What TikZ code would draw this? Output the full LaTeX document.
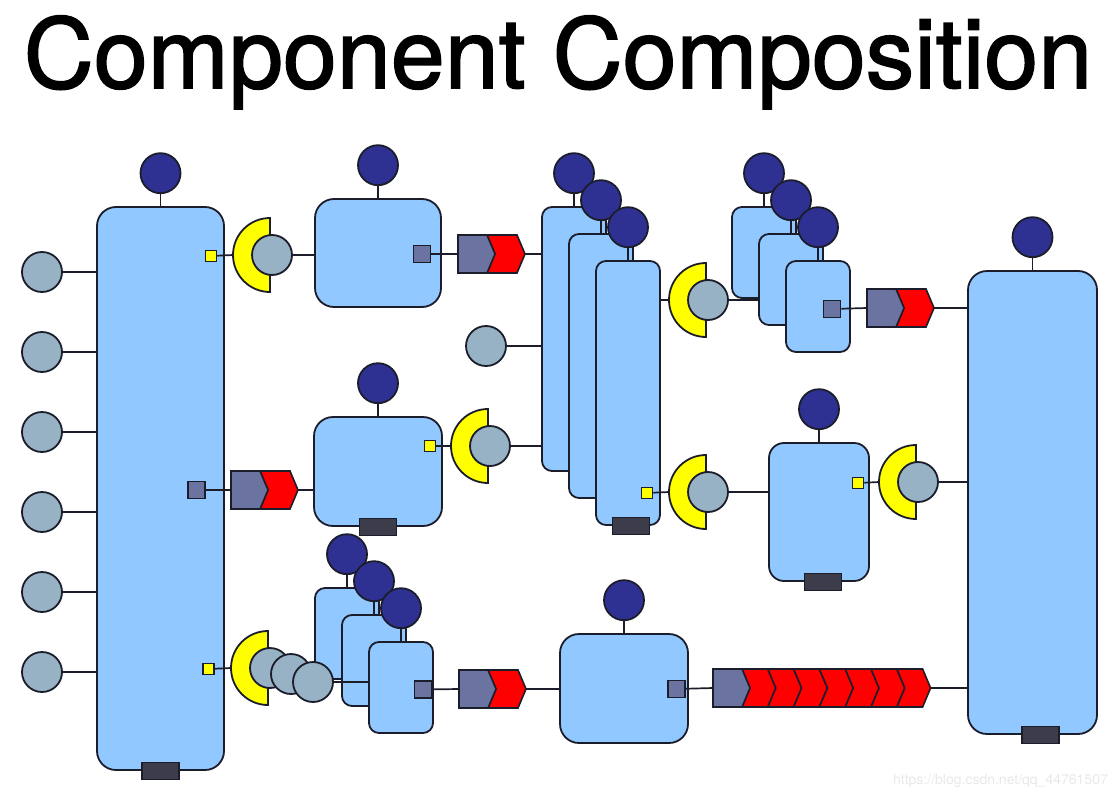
\documentclass[tikz,border=0pt]{standalone}
\usepackage{fontspec}
\setmainfont{TeX Gyre Heros}
\newfontfamily\titlefont[FakeBold=1.6]{TeX Gyre Heros}
\usetikzlibrary{positioning}

\definecolor{edge}{HTML}{1C1D2B}
\definecolor{boxblue}{HTML}{91C8FF}
\definecolor{svcblue}{HTML}{2E3192}
\definecolor{portgray}{HTML}{97B1C5}
\definecolor{slate}{HTML}{6B73A0}
\definecolor{qred}{HTML}{FF0000}
\definecolor{plugyellow}{HTML}{FFFF00}
\definecolor{footdark}{HTML}{3D3C4A}

\tikzset{
  comp/.style = {draw = edge, fill = boxblue, line width = 1.8pt,
    rounded corners = 19pt, inner sep = 0},
  slim/.style = {comp, rounded corners = 10pt, minimum width = 64pt},
  svc/.style = {circle, draw = edge, fill = svcblue, line width = 1.8pt,
    minimum size = 40pt, inner sep = 0},
  port/.style = {circle, draw = edge, fill = portgray, line width = 1.8pt,
    minimum size = 40pt, inner sep = 0},
  sq/.style = {draw = edge, fill = slate, line width = 1.6pt,
    minimum size = 17pt, inner sep = 0},
  ysq/.style = {draw = edge, fill = plugyellow, line width = 1.5pt,
    minimum size = 11pt, inner sep = 0},
  foot/.style = {draw = edge, fill = footdark, line width = 1.6pt,
    minimum width = 37pt, minimum height = 17pt, inner sep = 0},
  wire/.style = {draw = edge, line width = 1.7pt},
  heading/.style = {font = \titlefont\fontsize{97}{97}\selectfont, inner sep = 0},
  wmark/.style = {font = \fontsize{14}{14}\selectfont, text = black!9, inner sep = 0}
}

% service circle sitting on top of a box
\newcommand{\svcon}[1]{
  \node[svc, above = 12pt of #1] (#1-s) {};
  \draw[wire] (#1-s) -- (#1);
}

% yellow socket with its plug
\newcommand{\plug}[3]{
  \filldraw[draw = edge, fill = plugyellow, line width = 1.8pt]
    (#2, #3) ++(0, -37) arc[start angle = 90, end angle = 270, radius = 37pt] -- cycle;
  \coordinate (#1-in) at (#2 - 37, #3);
  \node[port] (#1) at (#2 + 2, #3) {};
}

% queue: grey head plus red chevrons
\newcommand{\queue}[5]{
  \begin{scope}[shift = {(#2, #3)}]
    \coordinate (#1-in) at (0, 0);
    \foreach \k in {1, ..., #4} {
      \pgfmathsetmacro{\qa}{29 + (\k - 1) * #5}
      \pgfmathsetmacro{\qb}{\qa + #5}
      \filldraw[draw = edge, fill = qred, line width = 1.6pt]
        (\qa, -19) -- (\qb, -19) -- (\qb + 8, 0) -- (\qb, 19) -- (\qa, 19) -- (\qa + 8, 0) -- cycle;
    }
    \filldraw[draw = edge, fill = slate, line width = 1.6pt]
      (0, -19) -- (29, -19) -- (37, 0) -- (29, 19) -- (0, 19) -- cycle;
    \coordinate (#1-out) at (29 + #4 * #5 + 8, 0);
  \end{scope}
}

\begin{document}
\begin{tikzpicture}[x = 1pt, y = -1pt]
  \useasboundingbox (0, 0) rectangle (1118, 797);

  \node[heading, anchor = base] (title) at (558, 88) {Component Composition};

  % left container and its inputs
  \node[comp, minimum width = 127pt, minimum height = 563pt] (L) at (160.5, 488.5) {};
  \svcon{L}
  \node[foot] (L-f) at (L.south) {};
  \foreach \k in {0, ..., 5} {
    \node[port] (in\k) at (42, 272 + 80 * \k) {};
    \draw[wire] (in\k) -- (in\k -| L.west);
  }
  \node[ysq] (L-y1) at (211, 256) {};
  \node[sq] (L-q) at (196.5, 490) {};
  \node[ysq] (L-y2) at (208.5, 669) {};

  \node[comp, minimum width = 126pt, minimum height = 108pt] (A) at (378, 253) {};
  \svcon{A}
  \node[sq] (A-q) at (422, 254) {};

  \node[comp, minimum width = 128pt, minimum height = 109pt] (B) at (378, 471.5) {};
  \svcon{B}
  \node[foot] (B-f) at (B.south) {};
  \node[ysq] (B-y) at (430, 446) {};

  \node[comp, minimum width = 128pt, minimum height = 109pt] (C) at (624, 688.5) {};
  \svcon{C}
  \node[sq] (C-q) at (676.5, 689) {};

  \node[comp, minimum width = 100pt, minimum height = 138pt, rounded corners = 15pt]
    (MR) at (819, 512) {};
  \svcon{MR}
  \node[foot] (MR-f) at ([xshift = 4pt]MR.south) {};
  \node[ysq] (MR-y) at (858, 483) {};

  \node[comp, minimum width = 129pt, minimum height = 463pt] (RB) at (1032.5, 502.5) {};
  \svcon{RB}
  \node[foot] (RB-f) at ([xshift = 8pt]RB.south) {};

  % stacked copies
  \foreach \i in {1, 2, 3} {
    \node[slim, minimum height = 264pt] (M\i) at (547 + 27 * \i, 312 + 27 * \i) {};
    \svcon{M\i}
  }
  \node[foot] (M3-f) at ([xshift = 3pt]M3.south) {};
  \node[ysq] (M3-y) at (647, 493) {};

  \foreach \i in {1, 2, 3} {
    \node[slim, minimum height = 91pt] (R\i) at (737 + 27 * \i, 225.5 + 27 * \i) {};
    \svcon{R\i}
  }
  \node[sq] (R3-q) at (832, 309) {};

  \foreach \i in {1, 2, 3} {
    \node[slim, minimum height = 91pt] (S\i) at (320 + 27 * \i, 606.5 + 27 * \i) {};
    \svcon{S\i}
  }
  \node[sq] (S3-q) at (423, 689.5) {};

  % sockets, plugs and queues
  \plug{P1}{270}{255}
  \plug{P2}{488}{446}
  \plug{P3}{706}{300}
  \plug{P5}{706}{492}
  \plug{P6}{916}{482}
  \plug{P4}{268}{668}
  \node[port] (P4b) at (291, 674) {};
  \node[port] (P4c) at (313, 682) {};
  \node[port] (F) at (486, 346) {};

  \queue{Q1}{231}{490}{1}{30}
  \queue{Q2}{458}{254}{1}{30}
  \queue{Q3}{867}{308}{1}{30}
  \queue{Q4}{459}{689}{1}{30}
  \queue{Q5}{713}{688}{7}{25.8}

  % wiring
  \draw[wire] (L-y1) -- (P1-in);
  \draw[wire] (P1) -- (P1 -| A.west);
  \draw[wire] (L-q) -- (Q1-in);
  \draw[wire] (Q1-out) -- (Q1-out -| B.west);
  \draw[wire] (L-y2) -- (P4-in);
  \draw[wire] (P4c) -- (P4c -| S3.west);
  \draw[wire] (A-q) -- (Q2-in);
  \draw[wire] (Q2-out) -- (Q2-out -| M1.west);
  \draw[wire] (F) -- (F -| M1.west);
  \draw[wire] (B-y) -- (P2-in);
  \draw[wire] (P2) -- (P2 -| M1.west);
  \draw[wire] (M3.east |- P3-in) -- (P3-in);
  \draw[wire] (P3) -- (P3 -| R2.west);
  \draw[wire] (M3-y) -- (P5-in);
  \draw[wire] (P5) -- (P5 -| MR.west);
  \draw[wire] (R3-q) -- (Q3-in);
  \draw[wire] (Q3-out) -- (Q3-out -| RB.west);
  \draw[wire] (MR-y) -- (P6-in);
  \draw[wire] (P6) -- (P6 -| RB.west);
  \draw[wire] (S3-q) -- (Q4-in);
  \draw[wire] (Q4-out) -- (Q4-out -| C.west);
  \draw[wire] (C-q) -- (Q5-in);
  \draw[wire] (Q5-out) -- (Q5-out -| RB.west);

  \node[wmark, anchor = base east] (url) at (1108, 784) {https://blog.csdn.net/qq\_44761507};
\end{tikzpicture}
\end{document}
